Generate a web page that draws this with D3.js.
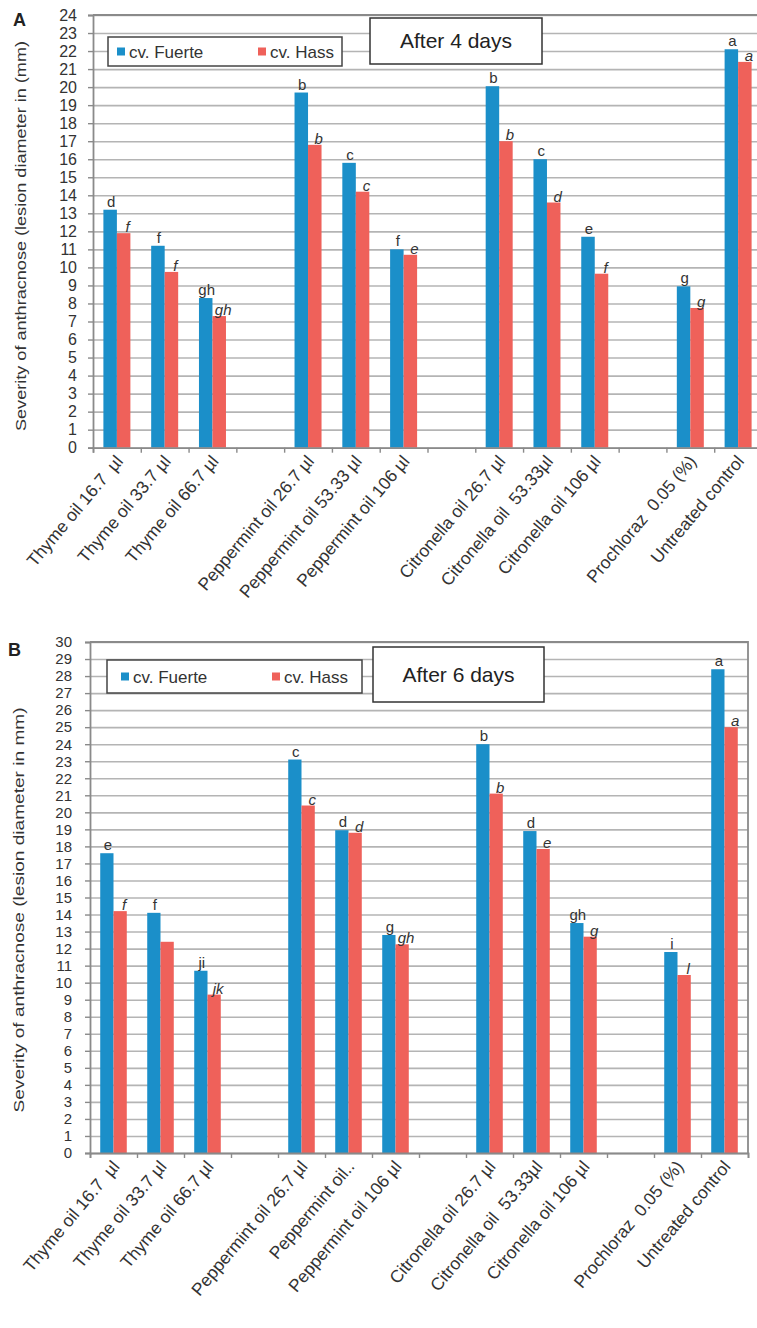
<!DOCTYPE html>
<html>
<head>
<meta charset="utf-8">
<script src="https://cdn.jsdelivr.net/npm/d3@7"></script>
<style>
  body { margin: 0; background: #fff; }
  svg text { font-family: "Liberation Sans", Arial, sans-serif; }
  .xlab { white-space: pre; }
</style>
</head>
<body>
<div id="chart"></div>
<script>
// categories (14 slots, blanks are the gaps between oil groups)
var catsA = ["Thyme oil 16.7  \u00b5l", "Thyme oil 33.7 \u00b5l", "Thyme oil 66.7 \u00b5l", "",
  "Peppermint oil 26.7 \u00b5l", "Peppermint oil 53.33 \u00b5l", "Peppermint oil 106 \u00b5l", "",
  "Citronella oil 26.7 \u00b5l", "Citronella oil  53.33\u00b5l", "Citronella oil 106 \u00b5l", "",
  "Prochloraz  0.05 (%)", "Untreated control"];
var catsB = ["Thyme oil 16.7  \u00b5l", "Thyme oil 33.7 \u00b5l", "Thyme oil 66.7 \u00b5l", "",
  "Peppermint oil 26.7 \u00b5l", "Peppermint oil..", "Peppermint oil 106 \u00b5l", "",
  "Citronella oil 26.7 \u00b5l", "Citronella oil  53.33\u00b5l", "Citronella oil 106 \u00b5l", "",
  "Prochloraz  0.05 (%)", "Untreated control"];

// After 4 days (null = empty slot)
var fuerteA = [13.2, 11.2, 8.3, null, 19.7, 15.8, 11.0, null, 20.05, 16.0, 11.7, null, 8.95, 22.1];
var hassA   = [11.9, 9.75, 7.3, null, 16.8, 14.2, 10.7, null, 17.0, 13.6, 9.65, null, 7.75, 21.4];
var letFuerteA = ["d", "f", "gh", "", "b", "c", "f", "", "b", "c", "e", "", "g", "a"];
var letHassA   = ["f", "f", "gh", "", "b", "c", "e", "", "b", "d", "f", "", "g", "a"];

// After 6 days
var fuerteB = [17.6, 14.1, 10.7, null, 23.1, 18.95, 12.8, null, 24.0, 18.9, 13.5, null, 11.8, 28.4];
var hassB   = [14.2, 12.4, 9.3, null, 20.4, 18.8, 12.25, null, 21.1, 17.85, 12.7, null, 10.45, 25.0];
var letFuerteB = ["e", "f", "ji", "", "c", "d", "g", "", "b", "d", "gh", "", "i", "a"];
var letHassB   = ["f", "", "jk", "", "c", "d", "gh", "", "b", "e", "g", "", "l", "a"];

var yTicksA = d3.range(0, 25);
var yTicksB = d3.range(0, 31);
var seriesNames = ["cv. Fuerte", "cv. Hass"];
var colors = ["#1b8fc9", "#ef615a"];

var svg = d3.select("#chart").append("svg")
  .attr("width", 757)
  .attr("height", 1328);

function panel(o) {
  var g = svg.append("g");
  var x = d3.scaleBand().domain(d3.range(14)).range([o.x0, o.x1]);
  var xl = d3.scaleLinear().domain([0, 14]).range([o.x0, o.x1]);
  var inner = d3.scaleBand().domain([0, 1]).range([0, x.bandwidth()]).paddingOuter(0.77);
  var y = d3.scaleLinear().domain([0, o.ymax]).range([o.y0, o.y1]);

  // gridlines
  g.append("g")
    .attr("transform", "translate(" + o.x0 + ",0)")
    .call(d3.axisLeft(y).tickValues(o.ticks).tickSize(-(o.x1 - o.x0)).tickFormat(""))
    .call(function(s) {
      s.select(".domain").remove();
      s.selectAll("line").attr("stroke", "#b4b4b4").attr("stroke-width", 1.6);
    });

  // frame (top + right)
  g.append("path")
    .attr("d", "M" + o.x0 + "," + o.y1 + "H" + o.x1 + "V" + o.y0)
    .attr("fill", "none").attr("stroke", "#8a8a8a").attr("stroke-width", 1.8);

  // bars
  [o.f, o.h].forEach(function(vals, si) {
    g.selectAll(".bar" + si)
      .data(vals.map(function(v, i) { return {v: v, i: i}; }).filter(function(d) { return d.v != null; }))
      .enter().append("rect")
      .attr("x", function(d) { return x(d.i) + inner(si); })
      .attr("width", inner.bandwidth())
      .attr("y", function(d) { return y(d.v); })
      .attr("height", function(d) { return o.y0 - y(d.v); })
      .attr("fill", colors[si]);
  });

  // letters
  g.selectAll(".lf")
    .data(o.lf.map(function(t, i) { return {t: t, i: i}; }).filter(function(d) { return d.t; }))
    .enter().append("text")
    .attr("x", function(d) { return x(d.i) + inner(0) + inner.bandwidth() / 2 + 1; })
    .attr("y", function(d) { return y(o.f[d.i]) - 3; })
    .attr("text-anchor", "middle")
    .attr("font-size", 15).attr("fill", "#333")
    .text(function(d) { return d.t; });
  g.selectAll(".lh")
    .data(o.lh.map(function(t, i) { return {t: t, i: i}; }).filter(function(d) { return d.t; }))
    .enter().append("text")
    .attr("x", function(d) { return x(d.i) + inner(1) + inner.bandwidth() / 2 + 4; })
    .attr("y", function(d) { return y(o.h[d.i]) - 1; })
    .attr("text-anchor", "middle")
    .attr("font-size", 15).attr("font-style", "italic").attr("fill", "#333")
    .text(function(d) { return d.t; });

  // y axis
  g.append("g")
    .attr("transform", "translate(" + o.x0 + ",0)")
    .call(d3.axisLeft(y).tickValues(o.ticks).tickSize(5).tickPadding(o.tickPad))
    .call(function(s) {
      s.select(".domain").attr("stroke", "#8a8a8a").attr("stroke-width", 1.8);
      s.selectAll("line").attr("stroke", "#8a8a8a").attr("stroke-width", 1.4);
      s.selectAll("text").attr("font-size", o.tickFont).attr("fill", "#333")
        .style("font-family", "'Liberation Sans', Arial, sans-serif");
    });

  // x axis
  g.append("g")
    .attr("transform", "translate(0," + o.y0 + ")")
    .call(d3.axisBottom(xl).tickValues(d3.range(15)).tickSize(5).tickFormat(""))
    .call(function(s) {
      s.select(".domain").attr("stroke", "#8a8a8a").attr("stroke-width", 1.8);
      s.selectAll("line").attr("stroke", "#8a8a8a").attr("stroke-width", 1.4);
    });

  // category labels
  g.selectAll(".xlab")
    .data(o.cats.map(function(t, i) { return {t: t, i: i}; }).filter(function(d) { return d.t; }))
    .enter().append("text")
    .attr("class", "xlab")
    .attr("text-anchor", "end")
    .attr("font-size", 17.5).attr("fill", "#333")
    .attr("transform", function(d) {
      return "translate(" + (x(d.i) + x.bandwidth() / 2 + 7) + "," + (o.y0 + 14) + ") rotate(-50)";
    })
    .text(function(d) { return d.t; });

  // y title
  g.append("text")
    .attr("transform", "translate(" + o.titleX + "," + o.titleY + ") rotate(-90)")
    .attr("text-anchor", "middle")
    .attr("font-size", 15).attr("fill", "#333")
    .attr("textLength", o.titleLen).attr("lengthAdjust", "spacingAndGlyphs")
    .text(o.title);

  // panel letter
  g.append("text")
    .attr("x", o.letX).attr("y", o.letY)
    .attr("font-size", 18).attr("font-weight", "bold").attr("fill", "#222")
    .text(o.letter);

  // legend
  var lg = o.legend;
  g.append("rect")
    .attr("x", lg.x).attr("y", lg.y).attr("width", lg.w).attr("height", lg.h)
    .attr("fill", "#fff").attr("stroke", "#444").attr("stroke-width", 1.5);
  seriesNames.forEach(function(n, i) {
    g.append("rect")
      .attr("x", lg.items[i]).attr("y", lg.y + lg.h / 2 - 4)
      .attr("width", 8).attr("height", 8).attr("fill", colors[i]);
    g.append("text")
      .attr("x", lg.items[i] + 12).attr("y", lg.y + lg.h / 2 + 6)
      .attr("font-size", 17).attr("fill", "#333")
      .text(n);
  });

  // title box
  var tb = o.tbox;
  g.append("rect")
    .attr("x", tb.x).attr("y", tb.y).attr("width", tb.w).attr("height", tb.h)
    .attr("fill", "#fff").attr("stroke", "#333").attr("stroke-width", 1.5);
  g.append("text")
    .attr("x", tb.x + tb.w / 2).attr("y", tb.y + tb.h / 2 + 7)
    .attr("text-anchor", "middle")
    .attr("font-size", 21).attr("fill", "#222")
    .text(o.heading);
}

panel({
  x0: 93, x1: 762, y0: 447.7, y1: 15, ymax: 24, ticks: yTicksA,
  f: fuerteA, h: hassA, lf: letFuerteA, lh: letHassA, cats: catsA,
  tickFont: 16, tickPad: 11,
  title: "Severity of anthracnose (lesion diameter in (mm)",
  titleX: 26, titleY: 236, titleLen: 390,
  letter: "A", letX: 13, letY: 26,
  legend: {x: 108, y: 37, w: 234, h: 29, items: [117, 258]},
  tbox: {x: 370, y: 18, w: 172, h: 46},
  heading: "After 4 days"
});

panel({
  x0: 90, x1: 748, y0: 1153, y1: 642, ymax: 30, ticks: yTicksB,
  f: fuerteB, h: hassB, lf: letFuerteB, lh: letHassB, cats: catsB,
  tickFont: 15, tickPad: 13,
  title: "Severity of anthracnose (lesion diameter in mm)",
  titleX: 24, titleY: 910, titleLen: 405,
  letter: "B", letX: 8, letY: 656,
  legend: {x: 107, y: 660, w: 255, h: 33, items: [121, 272]},
  tbox: {x: 373, y: 647, w: 171, h: 55},
  heading: "After 6 days"
});
</script>
</body>
</html>
